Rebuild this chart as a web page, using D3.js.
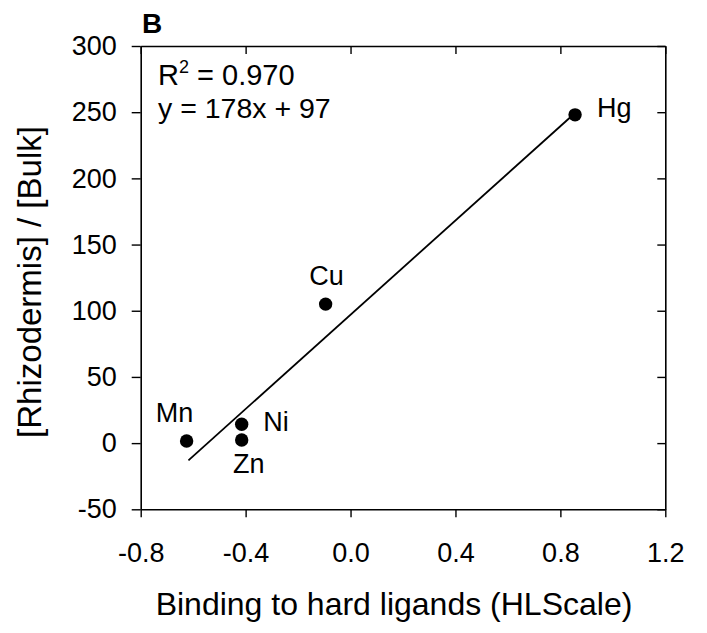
<!DOCTYPE html>
<html>
<head>
<meta charset="utf-8">
<script src="https://cdn.jsdelivr.net/npm/d3@7"></script>
<style>
  body { margin: 0; background: #fff; }
  svg { display: block; font-family: "Liberation Sans", Arial, sans-serif; }
</style>
</head>
<body>
<div id="chart"></div>
<script>
// Metal data: HLScale vs rhizodermis/bulk ratio
const elements = ["Mn", "Ni", "Zn", "Cu", "Hg"];
const hlScale = [-0.625, -0.415, -0.415, -0.095, 0.856];
const ratio = [1.6, 14.2, 2.4, 105, 248];

// Linear fit shown on the chart
const fitSlope = 178;
const fitIntercept = 97;
const fitRange = [-0.618, 0.856];
const fitText = ["R", "2", " = 0.970", "y = 178x + 97"];

const xTicks = [-0.8, -0.4, 0.0, 0.4, 0.8, 1.2];
const yTicks = [-50, 0, 50, 100, 150, 200, 250, 300];

const width = 707, height = 633;
const plot = { left: 140.7, right: 665.3, top: 46, bottom: 509.3 };

const svg = d3.select("#chart").append("svg")
  .attr("width", width)
  .attr("height", height);

const x = d3.scaleLinear().domain([-0.8, 1.2]).range([plot.left, plot.right]);
const y = d3.scaleLinear().domain([-50, 300]).range([plot.bottom, plot.top]);

// plain hyphen for negatives, like the original
const fmtX = d => d.toFixed(1);
const fmtY = d => String(d);

/** Axes */
const xAxis = svg.append("g")
  .attr("transform", "translate(0," + plot.bottom + ")")
  .call(d3.axisBottom(x).tickValues(xTicks).tickFormat(fmtX)
    .tickSize(8).tickSizeOuter(0).tickPadding(26));

const yAxis = svg.append("g")
  .attr("transform", "translate(" + plot.left + ",0)")
  .call(d3.axisLeft(y).tickValues(yTicks).tickFormat(fmtY)
    .tickSize(9).tickSizeOuter(0).tickPadding(15));

// mirrored ticks on top and right, pointing inward
const topAxis = svg.append("g")
  .attr("transform", "translate(0," + plot.top + ")")
  .call(d3.axisTop(x).tickValues(xTicks).tickSize(-8).tickSizeOuter(0).tickFormat(""));

const rightAxis = svg.append("g")
  .attr("transform", "translate(" + plot.right + ",0)")
  .call(d3.axisRight(y).tickValues(yTicks).tickSize(-8).tickSizeOuter(0).tickFormat(""));

[xAxis, yAxis, topAxis, rightAxis].forEach(g => {
  g.select(".domain").attr("stroke", "#000").attr("stroke-width", 1.6);
  g.selectAll(".tick line").attr("stroke", "#000").attr("stroke-width", 1.4);
  g.selectAll(".tick text")
    .attr("fill", "#000")
    .style("font-family", "'Liberation Sans', Arial, sans-serif")
    .style("font-size", "27px");
});

/** Axis titles */
svg.append("text")
  .attr("x", 394)
  .attr("y", 615)
  .attr("text-anchor", "middle")
  .style("font-size", "32px")
  .text("Binding to hard ligands (HLScale)");

svg.append("text")
  .attr("transform", "translate(41,282) rotate(-90)")
  .attr("text-anchor", "middle")
  .style("font-size", "33px")
  .text("[Rhizodermis] / [Bulk]");

// panel letter
svg.append("text")
  .attr("x", 142)
  .attr("y", 33)
  .style("font-size", "28px")
  .style("font-weight", "bold")
  .text("B");

/** Fit statistics */
const stats = svg.append("text")
  .attr("x", 158)
  .attr("y", 85)
  .style("font-size", "29px");
stats.append("tspan").text(fitText[0]);
stats.append("tspan").attr("dy", -12).style("font-size", "18px").text(fitText[1]);
stats.append("tspan").attr("dy", 12).text(fitText[2]);

svg.append("text")
  .attr("x", 158)
  .attr("y", 118)
  .style("font-size", "28.5px")
  .text(fitText[3]);

/** Regression line */
svg.append("line")
  .attr("x1", x(fitRange[0]))
  .attr("y1", y(fitSlope * fitRange[0] + fitIntercept))
  .attr("x2", x(fitRange[1]))
  .attr("y2", y(fitSlope * fitRange[1] + fitIntercept))
  .attr("stroke", "#000")
  .attr("stroke-width", 1.8);

/** Points and labels */
const points = elements.map((el, i) => ({ el: el, hl: hlScale[i], r: ratio[i] }));

svg.selectAll("circle.pt")
  .data(points)
  .enter()
  .append("circle")
  .attr("class", "pt")
  .attr("cx", d => x(d.hl))
  .attr("cy", d => y(d.r))
  .attr("r", 6.7)
  .attr("fill", "#000");

// label placement relative to each point
const labelOffset = {
  Mn: { dx: -12, dy: -19, anchor: "middle" },
  Ni: { dx: 21.5, dy: 7, anchor: "start" },
  Zn: { dx: 7, dy: 33, anchor: "middle" },
  Cu: { dx: 1, dy: -19, anchor: "middle" },
  Hg: { dx: 22, dy: 2, anchor: "start" }
};

svg.selectAll("text.lbl")
  .data(points)
  .enter()
  .append("text")
  .attr("class", "lbl")
  .attr("x", d => x(d.hl) + labelOffset[d.el].dx)
  .attr("y", d => y(d.r) + labelOffset[d.el].dy)
  .attr("text-anchor", d => labelOffset[d.el].anchor)
  .style("font-size", "27px")
  .text(d => d.el);
</script>
</body>
</html>
